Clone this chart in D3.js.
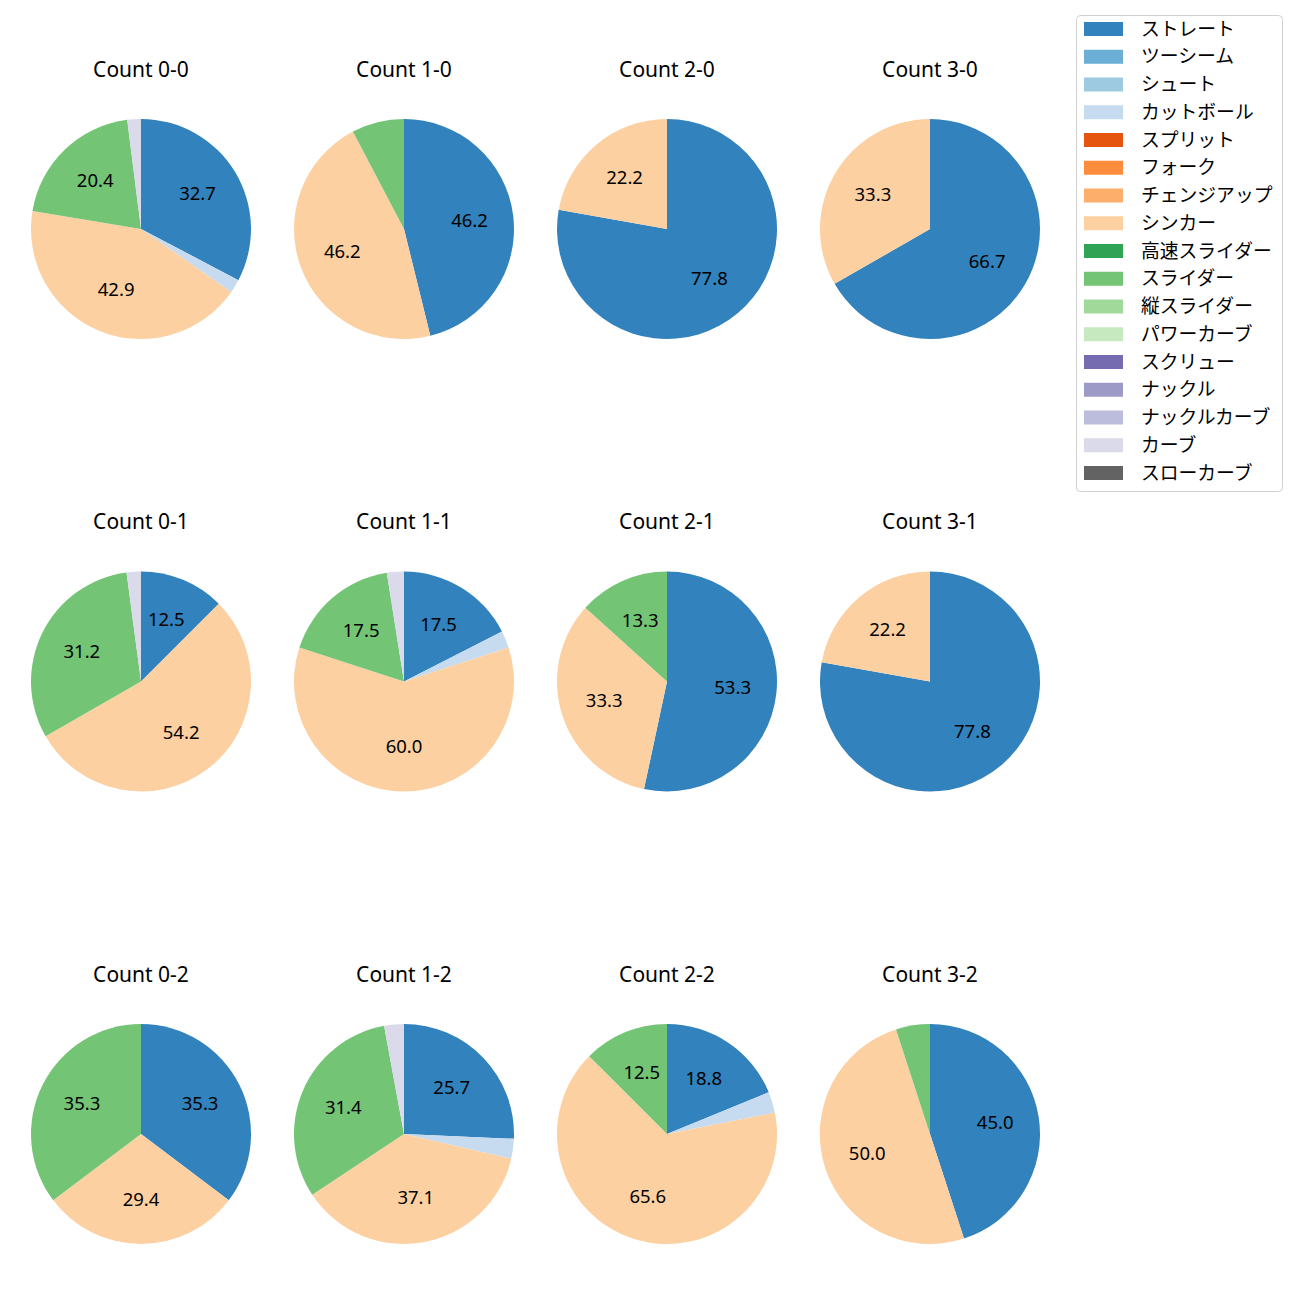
<!DOCTYPE html>
<html><head><meta charset="utf-8">
<script src="https://cdn.jsdelivr.net/npm/d3@7"></script>
<style>body{margin:0;background:#fff;} svg{display:block;font-family:"Noto Sans","Noto Sans CJK JP",sans-serif;}</style>
</head><body>
<svg id="c" width="1300" height="1300"></svg>
<script>
const countLabels = ["Count 0-0","Count 1-0","Count 2-0","Count 3-0","Count 0-1","Count 1-1","Count 2-1","Count 3-1","Count 0-2","Count 1-2","Count 2-2","Count 3-2"];
const pitchTypes = ["ストレート","ツーシーム","シュート","カットボール","スプリット","フォーク","チェンジアップ","シンカー","高速スライダー","スライダー","縦スライダー","パワーカーブ","スクリュー","ナックル","ナックルカーブ","カーブ","スローカーブ"];
const pitchColors = ["#3182bd","#6baed6","#9ecae1","#c6dbef","#e6550d","#fd8d3c","#fdae6b","#fdd0a2","#31a354","#74c476","#a1d99b","#c7e9c0","#756bb1","#9e9ac8","#bcbddc","#dadaeb","#636363"];
// percentages per count (order of countLabels)
const straight = [32.7,46.2,77.8,66.7,12.5,17.5,53.3,77.8,35.3,25.7,18.8,45.0];
const cutter   = [2.0,0,0,0,0,2.5,0,0,0,2.9,3.1,0];
const sinker   = [42.9,46.2,22.2,33.3,54.2,60.0,33.3,22.2,29.4,37.1,65.6,50.0];
const slider   = [20.4,7.7,0,0,31.2,17.5,13.3,0,35.3,31.4,12.5,5.0];
const curve    = [2.0,0,0,0,2.1,2.5,0,0,0,2.9,0,0];
const seriesNames = ["ストレート","カットボール","シンカー","スライダー","カーブ"];
const seriesValues = [straight, cutter, sinker, slider, curve];

const svg = d3.select("#c");
const color = d3.scaleOrdinal().domain(pitchTypes).range(pitchColors);
const colX = d3.scalePoint().domain([0,1,2,3]).range([141,930]);
const rowY = d3.scalePoint().domain([0,1,2]).range([229,1134]);
const R = 110;
const pie = d3.pie().sort(null).value(d=>d.v).startAngle(0).endAngle(2*Math.PI);
const arc = d3.arc().innerRadius(0).outerRadius(R);
const labelArc = d3.arc().innerRadius(R*0.6).outerRadius(R*0.6);

countLabels.forEach((lab,i)=>{
  const cx = colX(i%4), cy = rowY(Math.floor(i/4));
  const g = svg.append("g").attr("transform",`translate(${cx},${cy})`);
  const data = seriesNames.map((n,k)=>({name:n, v:seriesValues[k][i]})).filter(d=>d.v>0);
  const arcs = pie(data);
  g.selectAll("path").data(arcs).enter().append("path")
    .attr("d",arc).attr("fill",d=>color(d.data.name));
  g.selectAll("text.l").data(arcs.filter(d=>d.data.v>=10)).enter().append("text")
    .attr("class","l")
    .attr("transform",d=>{const c=labelArc.centroid(d); return `translate(${c[0]},${c[1]+5.5})`;})
    .attr("text-anchor","middle")
    .attr("font-size",18.5).attr("fill","#000")
    .text(d=>d.data.v.toFixed(1));
  svg.append("text").attr("x",cx).attr("y",cy-152.5)
    .attr("text-anchor","middle")
    .attr("font-size",21).attr("fill","#000").text(lab);
});

// legend
const lg = svg.append("g");
lg.append("rect").attr("x",1076.5).attr("y",15.5).attr("width",206).attr("height",476)
  .attr("rx",4).attr("fill","#fff").attr("stroke","#d0d0d0").attr("stroke-width",1);
const ly = d3.scaleLinear().domain([0,16]).range([29,473]);
pitchTypes.forEach((p,i)=>{
  lg.append("rect").attr("x",1084).attr("y",ly(i)-7).attr("width",39).attr("height",14).attr("fill",color(p));
  lg.append("text").attr("x",1141).attr("y",ly(i)+6.5)
    .attr("font-size",18.8).attr("fill","#000").text(p);
});
</script>
</body></html>
